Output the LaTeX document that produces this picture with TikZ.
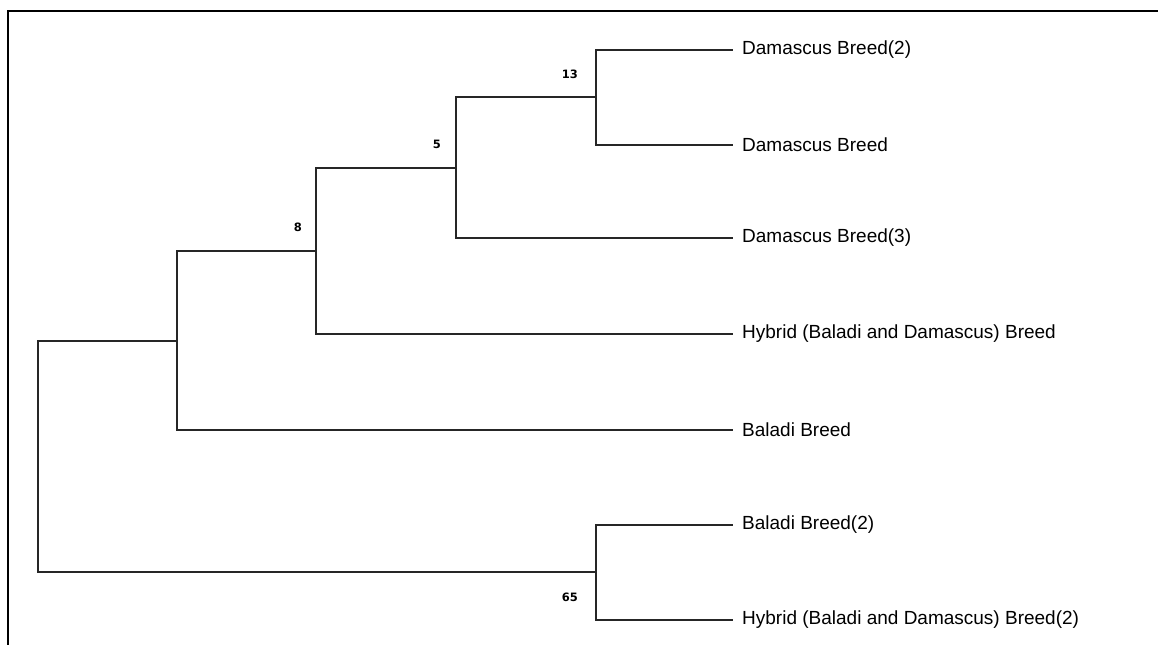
\documentclass[tikz,border=0pt]{standalone}
\usepackage{fontspec}
\setmainfont{Liberation Sans}
\newfontfamily\bootfont{DejaVu Sans}
\usetikzlibrary{positioning}

\begin{document}
\begin{tikzpicture}[x=1pt,y=-1pt,
leaf/.style={anchor=west, inner xsep=9pt, inner ysep=0pt, font=\fontsize{19}{21}\selectfont},
boot/.style={inner sep=0pt, font=\bootfont\bfseries\fontsize{11.5}{13}\selectfont},
branch/.style={draw=black!85, line width=1.1pt}]
\useasboundingbox (0,0) rectangle (1158,645);
% open frame
\draw[line width=1.4pt] (1158,11) -- (8,11) -- (8,645);
% leaves
\node[leaf] (dam2) at (733,50) {Damascus Breed(2)};
\node[leaf] (dam) at (733,145) {Damascus Breed};
\node[leaf] (dam3) at (733,238) {Damascus Breed(3)};
\node[leaf] (hyb) at (733,334) {Hybrid (Baladi and Damascus) Breed};
\node[leaf] (bal) at (733,430) {Baladi Breed};
\node[leaf] (bal2) at (733,525) {Baladi Breed(2)};
\node[leaf] (hyb2) at (733,620) {Hybrid (Baladi and Damascus) Breed(2)};
% internal nodes
\coordinate (n13) at (596,97);
\coordinate (n5) at (456,168);
\coordinate (n8) at (316,251);
\coordinate (nbal) at (177,341);
\coordinate (n65) at (596,572);
\coordinate (root) at (38,456);
% branches
\draw[branch] (n13) |- (dam2.west) (n13) |- (dam.west);
\draw[branch] (n5) |- (n13) (n5) |- (dam3.west);
\draw[branch] (n8) |- (n5) (n8) |- (hyb.west);
\draw[branch] (nbal) |- (n8) (nbal) |- (bal.west);
\draw[branch] (n65) |- (bal2.west) (n65) |- (hyb2.west);
\draw[branch] (root) |- (nbal) (root) |- (n65);
% bootstrap values
\node[boot, above left=18pt and 18pt of n13] (b13) {13};
\node[boot, above left=19pt and 15pt of n5] (b5) {5};
\node[boot, above left=19pt and 14pt of n8] (b8) {8};
\node[boot, below left=21pt and 18pt of n65] (b65) {65};
\end{tikzpicture}
\end{document}
